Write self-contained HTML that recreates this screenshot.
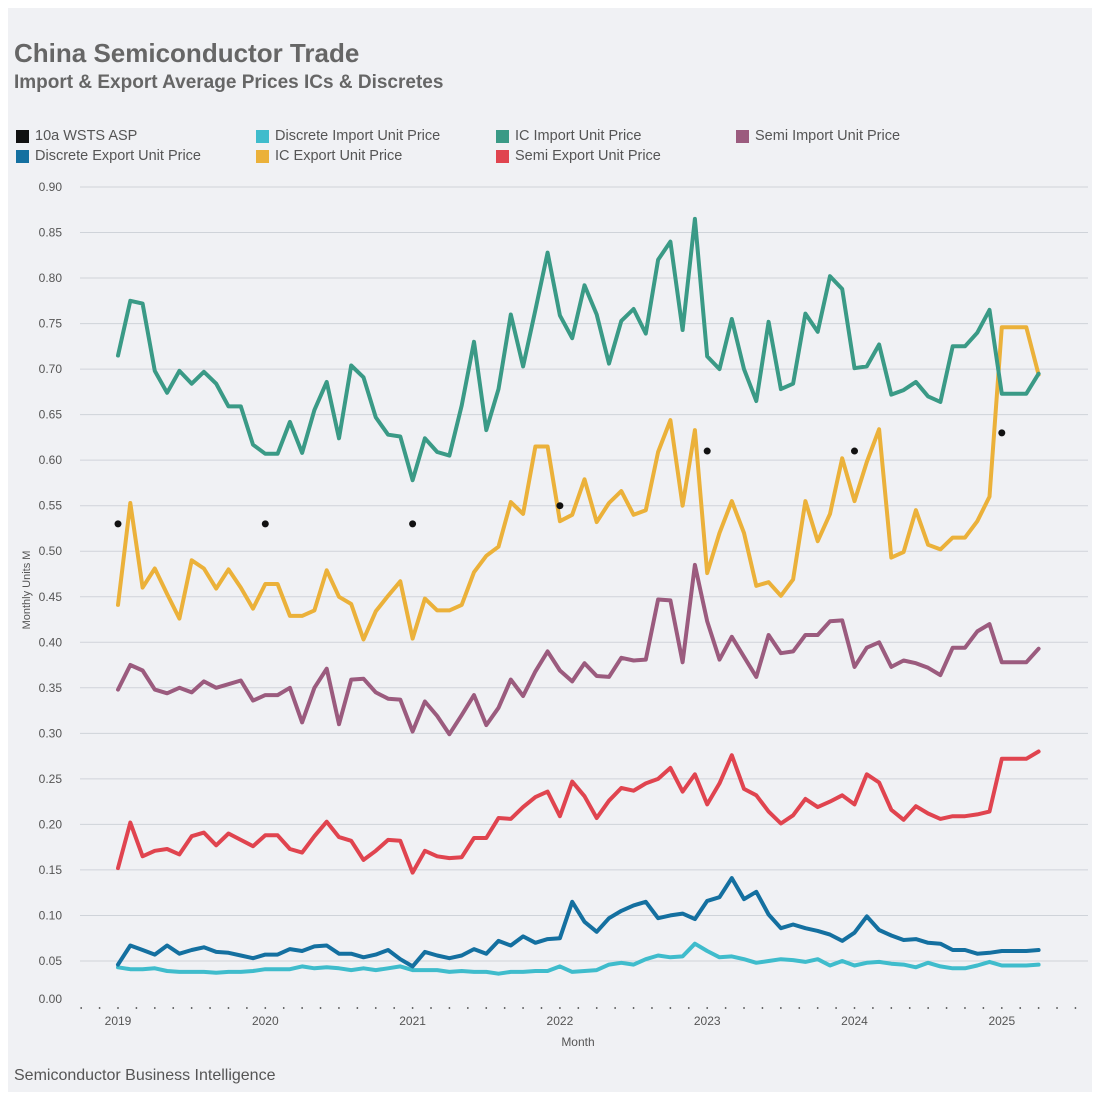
<!DOCTYPE html>
<html><head><meta charset="utf-8"><style>
html,body{margin:0;padding:0;background:#fff;}
#card{position:absolute;left:8px;top:8px;width:1084px;height:1084px;background:#f0f1f4;font-family:"Liberation Sans",Arial,sans-serif;}
.t1{position:absolute;left:6px;top:30px;font-size:26px;font-weight:bold;color:#666;}
.t2{position:absolute;left:6px;top:64px;font-size:19px;font-weight:bold;color:#666;}
.foot{position:absolute;left:6px;top:1059px;font-size:16px;color:#555;}
.leg{position:absolute;font-size:14.5px;color:#555;display:flex;align-items:center;}
.leg span.sw{display:inline-block;width:13px;height:13px;margin-right:6px;}
</style></head><body>
<div id="card">
<div class="t1">China Semiconductor Trade</div>
<div class="t2">Import &amp; Export Average Prices ICs &amp; Discretes</div>
<div class="leg" style="left:8px;top:120px"><span class="sw" style="background:#111"></span>10a WSTS ASP</div>
<div class="leg" style="left:248px;top:120px"><span class="sw" style="background:#3fbccc"></span>Discrete Import Unit Price</div>
<div class="leg" style="left:488px;top:120px"><span class="sw" style="background:#3a9a86"></span>IC Import Unit Price</div>
<div class="leg" style="left:728px;top:120px"><span class="sw" style="background:#9b5b7e"></span>Semi Import Unit Price</div>
<div class="leg" style="left:8px;top:140px"><span class="sw" style="background:#1470a0"></span>Discrete Export Unit Price</div>
<div class="leg" style="left:248px;top:140px"><span class="sw" style="background:#ebb13a"></span>IC Export Unit Price</div>
<div class="leg" style="left:488px;top:140px"><span class="sw" style="background:#e0444f"></span>Semi Export Unit Price</div>
<div class="foot">Semiconductor Business Intelligence</div>
</div>
<svg id="chart" width="1100" height="1100" style="position:absolute;left:0;top:0"></svg>
<script>
const years=["2019","2020","2021","2022","2023","2024","2025"];
const yTicks=[0,0.05,0.1,0.15,0.2,0.25,0.3,0.35,0.4,0.45,0.5,0.55,0.6,0.65,0.7,0.75,0.8,0.85,0.9];
const icImport=[0.715,0.775,0.772,0.698,0.674,0.698,0.684,0.697,0.684,0.659,0.659,0.617,0.607,0.607,0.642,0.608,0.655,0.686,0.624,0.704,0.691,0.647,0.628,0.626,0.578,0.624,0.609,0.605,0.660,0.730,0.633,0.678,0.760,0.703,0.765,0.828,0.759,0.734,0.792,0.760,0.706,0.753,0.766,0.739,0.820,0.840,0.743,0.865,0.714,0.700,0.755,0.700,0.665,0.752,0.678,0.684,0.761,0.741,0.802,0.788,0.701,0.703,0.727,0.672,0.677,0.686,0.670,0.664,0.725,0.725,0.740,0.765,0.673,0.673,0.673,0.695];
const icExport=[0.441,0.553,0.460,0.481,0.453,0.426,0.490,0.481,0.459,0.480,0.460,0.437,0.464,0.464,0.429,0.429,0.435,0.479,0.450,0.442,0.403,0.434,0.451,0.467,0.404,0.448,0.435,0.435,0.441,0.477,0.495,0.505,0.554,0.541,0.615,0.615,0.533,0.540,0.579,0.532,0.553,0.566,0.540,0.545,0.609,0.644,0.550,0.633,0.476,0.520,0.555,0.520,0.462,0.466,0.451,0.469,0.555,0.511,0.541,0.602,0.555,0.598,0.634,0.493,0.499,0.545,0.507,0.502,0.515,0.515,0.533,0.560,0.746,0.746,0.746,0.694];
const semiImport=[0.348,0.375,0.369,0.348,0.344,0.350,0.345,0.357,0.350,0.354,0.358,0.336,0.342,0.342,0.350,0.312,0.350,0.371,0.310,0.359,0.360,0.345,0.338,0.337,0.302,0.335,0.319,0.299,0.320,0.342,0.309,0.328,0.359,0.341,0.368,0.390,0.369,0.357,0.377,0.363,0.362,0.383,0.380,0.381,0.447,0.446,0.378,0.485,0.423,0.381,0.406,0.384,0.362,0.408,0.388,0.390,0.408,0.408,0.423,0.424,0.373,0.394,0.400,0.373,0.380,0.377,0.372,0.364,0.394,0.394,0.412,0.420,0.378,0.378,0.378,0.393];
const semiExport=[0.152,0.202,0.165,0.171,0.173,0.167,0.187,0.191,0.177,0.190,0.183,0.176,0.188,0.188,0.173,0.169,0.187,0.203,0.186,0.182,0.161,0.171,0.183,0.182,0.147,0.171,0.165,0.163,0.164,0.185,0.185,0.207,0.206,0.219,0.230,0.236,0.209,0.247,0.231,0.207,0.226,0.240,0.237,0.245,0.250,0.262,0.236,0.255,0.222,0.245,0.276,0.239,0.232,0.214,0.201,0.210,0.228,0.219,0.225,0.232,0.222,0.255,0.246,0.216,0.205,0.220,0.212,0.206,0.209,0.209,0.211,0.214,0.272,0.272,0.272,0.280];
const discExport=[0.046,0.067,0.062,0.057,0.067,0.058,0.062,0.065,0.060,0.059,0.056,0.053,0.057,0.057,0.063,0.061,0.066,0.067,0.058,0.058,0.054,0.057,0.062,0.052,0.044,0.060,0.056,0.053,0.056,0.063,0.058,0.072,0.067,0.077,0.070,0.074,0.075,0.115,0.093,0.082,0.097,0.105,0.111,0.115,0.097,0.100,0.102,0.096,0.116,0.120,0.141,0.118,0.126,0.101,0.086,0.090,0.086,0.083,0.079,0.072,0.081,0.099,0.084,0.078,0.073,0.074,0.070,0.069,0.062,0.062,0.058,0.059,0.061,0.061,0.061,0.062];
const discImport=[0.043,0.041,0.041,0.042,0.039,0.038,0.038,0.038,0.037,0.038,0.038,0.039,0.041,0.041,0.041,0.044,0.042,0.043,0.042,0.040,0.042,0.040,0.042,0.044,0.040,0.040,0.040,0.038,0.039,0.038,0.038,0.036,0.038,0.038,0.039,0.039,0.044,0.038,0.039,0.040,0.046,0.048,0.046,0.052,0.056,0.054,0.055,0.069,0.061,0.054,0.055,0.052,0.048,0.050,0.052,0.051,0.049,0.052,0.045,0.050,0.045,0.048,0.049,0.047,0.046,0.043,0.048,0.044,0.042,0.042,0.045,0.049,0.045,0.045,0.045,0.046];
const wstsMonth=[0,12,24,36,48,60,72];
const wstsValue=[0.53,0.53,0.53,0.55,0.61,0.61,0.63];

const svg=document.getElementById('chart');
const NS='http://www.w3.org/2000/svg';
const X0=118,PX_PER_MONTH=147.3/12,Y0=1006.5,Y90=187;
const xs=m=>X0+m*PX_PER_MONTH;
const ys=v=>Y0-(v/0.9)*(Y0-Y90);
function mk(tag,attrs){const e=document.createElementNS(NS,tag);for(const k in attrs)e.setAttribute(k,attrs[k]);svg.appendChild(e);return e;}
yTicks.forEach(t=>{
  const y=ys(t);
  if(t>0){const g=mk('line',{x1:80,x2:1088,y1:y,y2:y,stroke:'#cfd3d9','stroke-width':1});
  
  }
  const ly=t===0?1003:y+4;
  const l=mk('text',{x:62,y:ly,'text-anchor':'end','font-size':12,fill:'#555','font-family':'Liberation Sans, sans-serif'});
  l.textContent=t.toFixed(2);
  
  
});
for(let m=-3;m<=79;m+=1.5){
  const x=xs(m); if(x<80||x>1080) continue;
  const d=mk('circle',{cx:x,cy:1008,r:0.9,fill:'#444'});
  
  
}
years.forEach((yr,i)=>{
  const t=mk('text',{x:xs(i*12),y:1025,'text-anchor':'middle','font-size':12,fill:'#555','font-family':'Liberation Sans, sans-serif'});
  t.textContent=yr;
  
  
});
const xt=mk('text',{x:578,y:1046,'text-anchor':'middle','font-size':12,fill:'#555','font-family':'Liberation Sans, sans-serif'});
xt.textContent='Month';


const yt=mk('text',{x:0,y:0,'text-anchor':'middle','font-size':11,fill:'#555','font-family':'Liberation Sans, sans-serif',transform:'translate(30,590) rotate(-90)'});
yt.textContent='Monthly Units M';


const series=[[discImport,'#3fbccc','discrete-import-line'],[discExport,'#1470a0','discrete-export-line'],[semiExport,'#e0444f','semi-export-line'],[semiImport,'#9b5b7e','semi-import-line'],[icExport,'#ebb13a','ic-export-line'],[icImport,'#3a9a86','ic-import-line']];
series.forEach(([vals,col,name])=>{
  const d=vals.map((v,i)=>(i?'L':'M')+xs(i).toFixed(1)+','+ys(v).toFixed(1)).join(' ');
  const p=mk('path',{d:d,fill:'none',stroke:col,'stroke-width':4,'stroke-linejoin':'round','stroke-linecap':'round'});
  
  
});
wstsMonth.forEach((m,i)=>{
  const c=mk('circle',{cx:xs(m),cy:ys(wstsValue[i]),r:3.5,fill:'#111'});
  
  
});
</script>
</body></html>
